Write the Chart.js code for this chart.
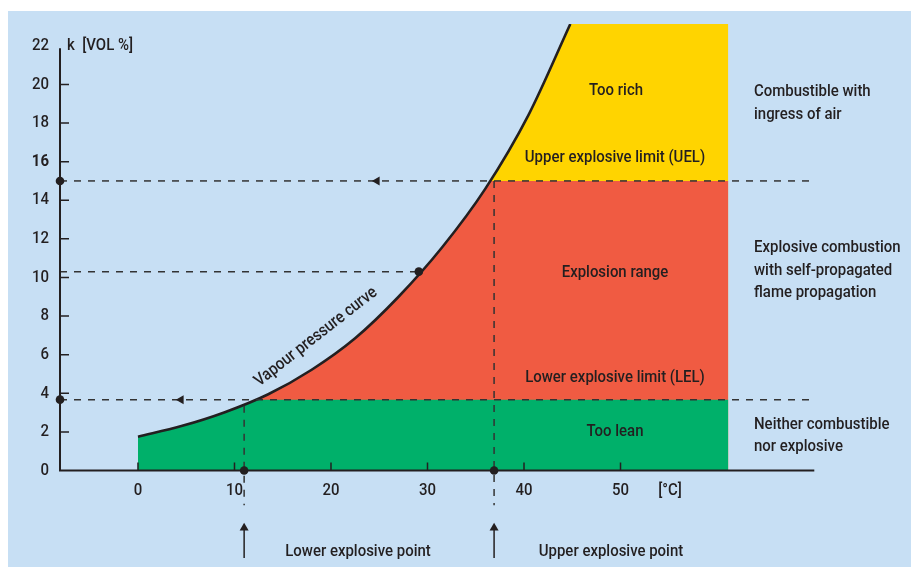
<!DOCTYPE html>
<html>
<head>
<meta charset="utf-8">
<script src="https://cdn.jsdelivr.net/npm/chart.js@4.4.1/dist/chart.umd.min.js"></script>
<style>
    html, body { margin: 0; padding: 0; background: #ffffff; overflow: hidden; }
    canvas { display: block; }
</style>
</head>
<body>
<canvas id="chart" width="911" height="567"></canvas>
<script>
// temperature [°C] vs vapour concentration k [VOL %]
const curveX = [0, 4.5, 9, 13.5, 18, 22.5, 27, 31.5, 36, 40.5, 44.8];
const curveY = [1.75, 2.3, 3.02, 3.95, 5.22, 6.85, 9.0, 11.55, 14.6, 18.45, 23.13];

const xTicks = [0, 10, 20, 30, 40, 50];
const yTicks = [0, 2, 4, 6, 8, 10, 12, 14, 16, 18, 20, 22];

const lel = 3.67;
const uel = 15;
const regionX = [0, 61.17];       // coloured block, left and right edge
const yTop = 23.13;
const xRange = [-8.08, 70.08];
const yRange = [-5.0, yTop];      // room below the axis for the arrows

const lowerPoint = 11.0;          // lower explosive point [°C]
const upperPoint = 36.9;          // upper explosive point [°C]
const markPoint = [29.1, 10.3];   // marked point on the curve

const COLORS = {
    bg: '#c7dff4',
    ink: '#231f20',
    dash: '#333333',
    green: '#00b06a',
    red: '#f05b42',
    yellow: '#ffd400'
};
const FONT = 'Roboto, "Liberation Sans", sans-serif';
const SX = 0.88;   // narrow the face a bit, the original uses a condensed type

const pts = (xs, ys) => xs.map((x, i) => ({ x: x, y: ys[i] }));

function band(y, color, order) {
    return {
        data: [{ x: regionX[0], y: y }, { x: regionX[1], y: y }],
        fill: 'origin',
        backgroundColor: color,
        borderWidth: 0,
        pointRadius: 0,
        order: order
    };
}

function dashed(a, b) {
    return {
        data: [a, b],
        borderColor: COLORS.dash,
        borderWidth: 1.5,
        borderDash: [7, 7],
        pointRadius: 0,
        fill: false,
        order: 3
    };
}

function solid(a, b) {
    return {
        data: [a, b],
        borderColor: COLORS.ink,
        borderWidth: 1.5,
        pointRadius: 0,
        fill: false,
        order: 2
    };
}

const datasets = [
    band(yTop, COLORS.yellow, 10),
    band(uel, COLORS.red, 9),
    band(lel, COLORS.green, 8),
    {
        // vapour pressure curve; everything above it goes back to the background
        data: pts(curveX, curveY),
        borderColor: COLORS.ink,
        borderWidth: 2.6,
        backgroundColor: COLORS.bg,
        fill: 'end',
        cubicInterpolationMode: 'monotone',
        pointRadius: 0,
        order: 5
    },
    dashed({ x: xRange[0], y: uel }, { x: xRange[1], y: uel }),
    dashed({ x: xRange[0], y: lel }, { x: xRange[1], y: lel }),
    dashed({ x: xRange[0], y: markPoint[1] }, { x: markPoint[0], y: markPoint[1] }),
    dashed({ x: lowerPoint, y: 3.35 }, { x: lowerPoint, y: -1.8 }),
    dashed({ x: upperPoint, y: uel }, { x: upperPoint, y: -1.8 }),
    solid({ x: lowerPoint, y: -4.53 }, { x: lowerPoint, y: -3.08 }),
    solid({ x: upperPoint, y: -4.53 }, { x: upperPoint, y: -3.08 }),
    {
        // arrow heads
        type: 'scatter',
        data: [
            { x: 24.77, y: uel }, { x: 4.46, y: lel },
            { x: lowerPoint, y: -2.98 }, { x: upperPoint, y: -2.98 }
        ],
        pointStyle: 'triangle',
        rotation: [270, 270, 0, 0],
        pointRadius: 5.2,
        backgroundColor: COLORS.ink,
        borderWidth: 0,
        clip: false,
        order: 1
    },
    {
        type: 'scatter',
        data: [
            { x: xRange[0], y: uel }, { x: xRange[0], y: lel },
            { x: markPoint[0], y: markPoint[1] },
            { x: lowerPoint, y: 0 }, { x: upperPoint, y: 0 }
        ],
        pointRadius: 4.3,
        backgroundColor: COLORS.ink,
        borderWidth: 0,
        clip: false,
        order: 0
    }
];

const TEXTS = [
    { t: 'Too rich', x: 616, y: 91, align: 'center' },
    { t: 'Upper explosive limit (UEL)', x: 615, y: 158, align: 'center' },
    { t: 'Explosion range', x: 615, y: 273, align: 'center' },
    { t: 'Lower explosive limit (LEL)', x: 615, y: 378, align: 'center' },
    { t: 'Too lean', x: 615, y: 432, align: 'center' },
    { t: 'Combustible with', x: 754, y: 92, align: 'left' },
    { t: 'ingress of air', x: 754, y: 115, align: 'left' },
    { t: 'Explosive combustion', x: 754, y: 248, align: 'left' },
    { t: 'with self-propagated', x: 754, y: 271, align: 'left' },
    { t: 'flame propagation', x: 754, y: 293, align: 'left' },
    { t: 'Neither combustible', x: 754, y: 425, align: 'left' },
    { t: 'nor explosive', x: 754, y: 447, align: 'left' },
    { t: 'Lower explosive point', x: 358, y: 552, align: 'center' },
    { t: 'Upper explosive point', x: 611, y: 552, align: 'center' },
    { t: '[°C]', x: 670, y: 491, align: 'center' },
    { t: 'k  [VOL %]', x: 67, y: 46, align: 'left' }
];

function narrowText(ctx, text, x, y, align, weight) {
    ctx.save();
    ctx.font = (weight || '500') + ' 17px ' + FONT;
    ctx.textAlign = align;
    ctx.textBaseline = 'middle';
    ctx.translate(x, y);
    ctx.scale(SX, 1);
    ctx.fillText(text, 0, 0);
    ctx.restore();
}

const decor = {
    id: 'decor',
    beforeDraw(chart) {
        const ctx = chart.ctx;
        ctx.save();
        ctx.fillStyle = COLORS.bg;
        ctx.fillRect(8, 11, chart.width - 8, chart.height - 11);
        ctx.restore();
    },
    afterDatasetsDraw(chart) {
        const ctx = chart.ctx;
        const xs = chart.scales.x;
        const ys = chart.scales.y;
        const x0 = xs.getPixelForValue(xRange[0]);
        const y0 = ys.getPixelForValue(0);
        ctx.save();
        ctx.strokeStyle = COLORS.ink;
        ctx.lineWidth = 2;
        ctx.beginPath();
        ctx.moveTo(x0, ys.getPixelForValue(21.88));
        ctx.lineTo(x0, y0);
        ctx.lineTo(xs.getPixelForValue(xRange[1]), y0);
        ctx.stroke();
        ctx.lineWidth = 1.5;
        ctx.beginPath();
        yTicks.filter(v => v > 0 && v < 22).forEach(v => {
            const p = ys.getPixelForValue(v);
            ctx.moveTo(x0, p);
            ctx.lineTo(x0 + 9, p);
        });
        xTicks.forEach(v => {
            const p = xs.getPixelForValue(v);
            ctx.moveTo(p, y0);
            ctx.lineTo(p, y0 - 8);
        });
        ctx.stroke();
        ctx.restore();
    },
    afterDraw(chart) {
        const ctx = chart.ctx;
        const xs = chart.scales.x;
        const ys = chart.scales.y;
        ctx.save();
        ctx.fillStyle = COLORS.ink;

        // tick labels
        yTicks.forEach(v => {
            narrowText(ctx, String(v), xs.getPixelForValue(xRange[0]) - 11, ys.getPixelForValue(v),
                'right', v === 16 ? 'bold' : '500');
        });
        xTicks.forEach(v => {
            narrowText(ctx, String(v), xs.getPixelForValue(v), ys.getPixelForValue(0) + 20, 'center');
        });

        TEXTS.forEach(o => narrowText(ctx, o.t, o.x, o.y, o.align));

        // label running along the curve
        ctx.translate(316, 337);
        ctx.rotate(-38 * Math.PI / 180);
        narrowText(ctx, 'Vapour pressure curve', 0, 0, 'center');
        ctx.restore();
    }
};

new Chart(document.getElementById('chart'), {
    type: 'line',
    data: { datasets: datasets },
    options: {
        responsive: false,
        devicePixelRatio: 1,
        animation: false,
        layout: {
            autoPadding: false,
            padding: { top: 24, right: 96.7, left: 60, bottom: 0 }
        },
        plugins: {
            legend: { display: false },
            tooltip: { enabled: false }
        },
        scales: {
            x: { type: 'linear', display: false, min: xRange[0], max: xRange[1] },
            y: { type: 'linear', display: false, min: yRange[0], max: yRange[1] }
        }
    },
    plugins: [decor]
});
</script>
</body>
</html>
